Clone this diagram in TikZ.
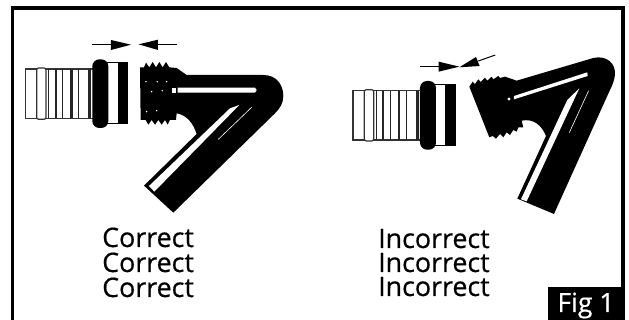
\documentclass[tikz,border=0pt]{standalone}
\usepackage{fontspec}
\setmainfont{Open Sans}
\newfontfamily\capfont[FakeBold=0.5]{Open Sans}
\tikzset{
  ink/.style={fill=black,draw=none},
  hole/.style={fill=white,draw=none},
  hoseline/.style={draw=black!80,line width=1.2pt,fill=white},
  gaparrow/.style={draw=black,line width=1pt},
  caption/.style={font=\capfont\fontsize{26.8}{24}\selectfont,anchor=base west,inner sep=0pt,text=black,text height=19pt,text depth=0pt},
}
\newcommand{\hosepart}{%
  \draw[hoseline] (76,147) rectangle (280,295);
  \draw[hoseline,rounded corners=2pt] (110,144) rectangle (138,298);
  \foreach \xx/\ww in {145/1,167/2.2,187/1,214/2.6,237/1,270/3}{\draw[black!85,line width=\ww pt] (\xx,147) -- (\xx,295);}
  \draw[black,line width=1pt,fill=white] (320,129) rectangle (383,312);
  \fill[ink] (353,129) rectangle (383,312);
  \fill[ink,rounded corners=7pt] (277,118) rectangle (325,324);
}
\begin{document}
\begin{tikzpicture}[x=1pt,y=-1pt]
\useasboundingbox (0,0) rectangle (629,320);
\fill[white] (0,0) rectangle (629,320);
\draw[black,line width=3.2pt] (12.5,320) -- (12.5,8) -- (623,8) -- (623,320);
% left coupler
\begin{scope}[shift={(0,20)},x=0.3333pt,y=-0.3333pt]
\hosepart
\coordinate (a1) at (277,74); \coordinate (a2) at (393,74);
\coordinate (b1) at (532,73); \coordinate (b2) at (416,73);
\draw[gaparrow] (a1) -- (340,74); \fill[ink] (a2) -- (333,60) -- (333,90) -- cycle;
\draw[gaparrow] (b1) -- (470,73); \fill[ink] (b2) -- (474,59) -- (474,90) -- cycle;
\fill[ink] (420,142) -- (432,142) -- (438,128) -- (448,142) -- (458,126) -- (468,142) -- (478,126) -- (488,142) -- (498,126) -- (508,142) -- (530,144) -- (560,165) -- (790,165) .. controls (830,165) and (850,195) .. (850,228) .. controls (850,250) and (840,265) .. (825,280) -- (520,578) -- (432,497) -- (590,342) .. controls (580,310) and (560,285) .. (530,280) -- (528,300) -- (510,300) -- (503,314) -- (495,300) -- (485,314) -- (475,300) -- (465,314) -- (455,300) -- (445,314) -- (437,300) -- (422,300) -- cycle;
\fill[hole] (533,203) -- (765,203) .. controls (772,205) and (772,216) .. (765,218) -- (533,218) -- cycle;
\fill[hole] (515,203) rectangle (527,218);
\fill[hole] (447,498) -- (690,265) -- (718,255) -- (463,515) -- cycle;
\draw[white,line width=0.6pt] (655,358) -- (755,262);
\foreach \px/\py in {438/185,455/215,472/185,487/212,440/275,470/272,500/185}{\fill[white] (\px,\py) circle (2.5);}
\end{scope}
% right coupler
\begin{scope}[shift={(327.67,41.67)},x=0.3333pt,y=-0.3333pt]
\hosepart
\end{scope}
\begin{scope}[shift={(330,30)},x=0.3333pt,y=-0.3333pt]
\coordinate (c1) at (270,110); \coordinate (c2) at (388,110);
\coordinate (d1) at (496,75); \coordinate (d2) at (388,112);
\draw[gaparrow] (c1) -- (330,110); \fill[ink] (c2) -- (326,95) -- (326,125) -- cycle;
\draw[gaparrow] (d1) -- (445,93); \fill[ink] (d2) -- (438,81) -- (449,108) -- cycle;
\fill[ink] (418,170) -- (428,155) -- (435,162) -- (445,148) -- (452,156) -- (465,143) -- (472,152) -- (485,140) -- (490,148) -- (505,138) -- (510,144) -- (525,140) -- (560,152) -- (790,84) .. controls (830,75) and (858,100) .. (855,135) .. controls (853,150) and (848,165) .. (840,180) -- (672,552) -- (562,506) -- (648,318) .. controls (635,285) and (610,265) .. (575,272) -- (580,292) -- (565,292) -- (560,305) -- (550,300) -- (540,315) -- (530,307) -- (520,322) -- (510,312) -- (498,326) -- (488,318) -- (478,322) -- cycle;
\fill[hole] (552,198) -- (772,127) -- (773,138) -- (552,208) -- cycle;
\fill[hole] (537,207) circle (5);
\fill[hole] (573,508) -- (712,210) -- (748,175) -- (590,514) -- cycle;
\draw[white,line width=0.6pt] (718,308) -- (776,182);
\end{scope}
% captions
\node[caption] (c1t) at (102,247) {Correct};
\node[caption] (c2t) at (102,272) {Correct};
\node[caption] (c3t) at (102,297) {Correct};
\node[caption] (i1t) at (378,248) {Incorrect};
\node[caption] (i2t) at (378,272) {Incorrect};
\node[caption] (i3t) at (378,296) {Incorrect};
\fill[ink] (548,287) rectangle (625,320);
\node[font=\capfont\fontsize{26.5}{26.5}\selectfont,text=white,inner sep=0pt,anchor=base] (fig) at (586,312) {Fig 1};
\end{tikzpicture}
\end{document}
